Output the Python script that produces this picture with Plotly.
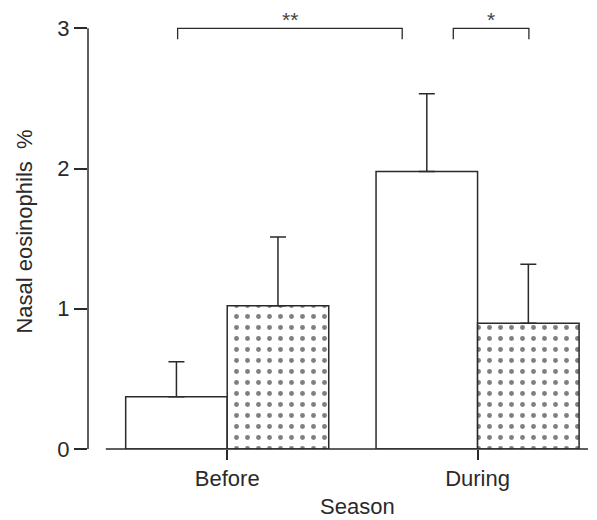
import plotly.graph_objects as go

# ---- data ----
seasons = ["Before", "During"]
group_a = [0.373, 1.978]          # white bars
group_a_err = [0.25, 0.556]
group_b = [1.022, 0.897]          # dotted bars
group_b_err = [0.49, 0.42]
y_ticks = [0, 1, 2, 3]

# significance brackets: (x start, x end, y top, y drop, label)
brackets = [(-0.198, 0.699, 3.0, 2.922, "**"),
            (0.903, 1.205, 3.0, 2.922, "*")]

ink = "#2a2a2a"
font_family = "Liberation Sans, Arial, sans-serif"

fig = go.Figure()
fig.add_trace(go.Bar(
    x=seasons, y=group_a,
    marker=dict(color="white", line=dict(color=ink, width=1.5)),
    error_y=dict(type="data", symmetric=False, array=group_a_err,
                 arrayminus=[0, 0], color=ink, thickness=1.5, width=8),
    showlegend=False,
))
fig.add_trace(go.Bar(
    x=seasons, y=group_b,
    marker=dict(color="white", line=dict(color=ink, width=1.5),
                pattern=dict(shape=".", size=11, solidity=0.16,
                             fgcolor="black", bgcolor="white", fillmode="overlay")),
    error_y=dict(type="data", symmetric=False, array=group_b_err,
                 arrayminus=[0, 0], color=ink, thickness=1.5, width=8),
    showlegend=False,
))

shapes = [
    # y axis line
    dict(type="line", xref="paper", yref="y", x0=0, x1=0, y0=0, y1=3,
         line=dict(color=ink, width=1.5)),
    # x axis line
    dict(type="line", xref="x", yref="paper", x0=-0.485, x1=1.441, y0=0, y1=0,
         line=dict(color=ink, width=1.5)),
]
annotations = []
for x0, x1, ytop, ydrop, lab in brackets:
    shapes.append(dict(type="path", xref="x", yref="y",
                       path=f"M {x0},{ydrop} L {x0},{ytop} L {x1},{ytop} L {x1},{ydrop}",
                       line=dict(color=ink, width=1.3)))
    annotations.append(dict(x=(x0 + x1) / 2, y=ytop, xref="x", yref="y",
                            text=lab, showarrow=False, yanchor="bottom", yshift=-5,
                            font=dict(size=21, color="#444", family=font_family)))

annotations.append(dict(xref="x", x=(358 - 227.2) / 250.4, yref="paper", y=0,
                        text="Season", showarrow=False,
                        yanchor="top", yshift=-43,
                        font=dict(size=22, color=ink, family=font_family)))

fig.update_layout(
    width=597, height=520,
    margin=dict(l=88, r=0, t=14, b=71),
    paper_bgcolor="white", plot_bgcolor="white",
    barmode="group", bargap=0.189, bargroupgap=0,
    font=dict(family=font_family, color=ink, size=22),
    shapes=shapes, annotations=annotations,
    xaxis=dict(range=[-0.556, 1.477], showline=False, showgrid=False, zeroline=False,
               ticks="outside", ticklen=10, tickwidth=1.5, tickcolor=ink,
               tickfont=dict(size=22, color=ink)),
    yaxis=dict(range=[0, 3.102], showline=False, showgrid=False, zeroline=False,
               tickvals=y_ticks, ticks="outside", ticklen=13, tickwidth=1.5,
               tickcolor=ink, tickfont=dict(size=22, color=ink),
               title=dict(text="Nasal eosinophils\u00a0 %", standoff=18,
                          font=dict(size=22, color=ink))),
)

fig.write_html("out.html")
